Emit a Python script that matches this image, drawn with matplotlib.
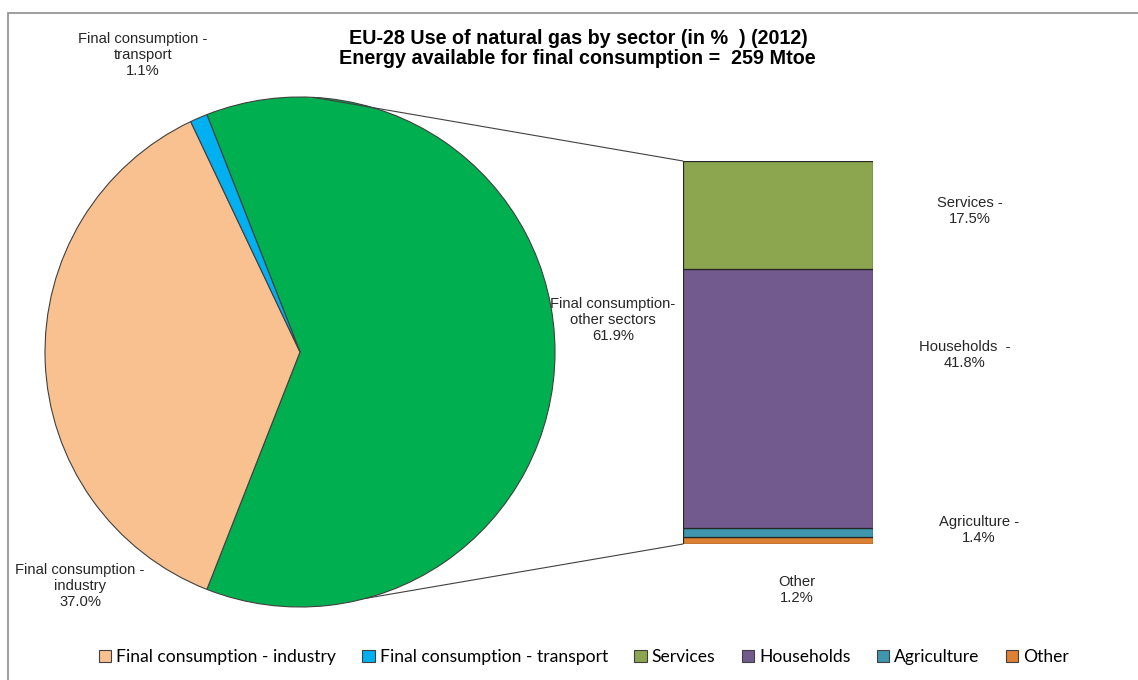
import matplotlib.pyplot as plt
import numpy as np
from matplotlib.patches import ConnectionPatch, Patch, Rectangle

# main pie
pie_labels = ['Final consumption- other sectors', 'Final consumption - industry', 'Final consumption - transport']
pie_values = [61.9, 37.0, 1.1]
pie_colors = ['#00B050', '#F9C18F', '#00B0F0']

# breakdown of "other sectors" (bottom to top)
bar_labels = ['Other', 'Agriculture', 'Households', 'Services']
bar_values = [1.2, 1.4, 41.8, 17.5]
bar_colors = ['#DE8034', '#3E97AE', '#725A8F', '#8BA64E']

legend_labels = ['Final consumption - industry', 'Final consumption - transport',
                 'Services', 'Households', 'Agriculture', 'Other']
legend_colors = ['#F9C18F', '#00B0F0', '#8BA64E', '#725A8F', '#3E97AE', '#DE8034']

W, H = 1138, 680
fig = plt.figure(figsize=(W / 100, H / 100), dpi=100)

def px_axes(x0, y0, x1, y1):
    # pixel box (top-left origin) -> figure axes
    return fig.add_axes([x0 / W, 1 - y1 / H, (x1 - x0) / W, (y1 - y0) / H])

# chart frame
fig.patches.append(Rectangle((8 / W, -0.05), 1.2, 1 - 13 / H + 0.05, transform=fig.transFigure,
                             fill=False, edgecolor='#8c8c8c', lw=1.2))

# pie
axp = px_axes(45, 97, 555, 607)
green_span = pie_values[0] / 100 * 360
axp.pie(pie_values, colors=pie_colors, startangle=green_span / 2, counterclock=False,
        wedgeprops=dict(edgecolor='#404040', linewidth=0.8))
axp.set_xlim(-1, 1)
axp.set_ylim(-1, 1)
axp.set_aspect('equal')
axp.axis('off')

# stacked bar
axb = px_axes(683, 161, 873, 544)
bottom = 0
for v, c in zip(bar_values, bar_colors):
    axb.bar(0, v, bottom=bottom, width=1, color=c, edgecolor='#262626', linewidth=0.9)
    bottom += v
axb.set_xlim(-0.5, 0.5)
axb.set_ylim(0, sum(bar_values))
axb.axis('off')

# connector lines
for ang, yb in [(87, sum(bar_values)), (-75, 0)]:
    a = np.radians(ang)
    con = ConnectionPatch(xyA=(np.cos(a), np.sin(a)), coordsA=axp.transData,
                          xyB=(-0.5, yb), coordsB=axb.transData,
                          color='#404040', lw=0.8)
    fig.add_artist(con)

# title
fig.text(578 / W, 1 - 39 / H, 'EU-28 Use of natural gas by sector (in %  ) (2012)',
         ha='center', va='center', fontsize=14.2, fontweight='bold', family='Liberation Sans')
fig.text(577 / W, 1 - 59 / H, 'Energy available for final consumption =  259 Mtoe',
         ha='center', va='center', fontsize=14.2, fontweight='bold', family='Liberation Sans')

# data labels
lab = dict(ha='center', va='center', fontsize=10.6, family='Liberation Sans', color='#262626',
           linespacing=1.15)
fig.text(143 / W, 1 - 55 / H, 'Final consumption -\ntransport\n1.1%', **lab)
fig.text(80 / W, 1 - 586 / H, 'Final consumption -\nindustry\n37.0%', **lab)
fig.text(613 / W, 1 - 320 / H, 'Final consumption-\nother sectors\n61.9%', **lab)
fig.text(970 / W, 1 - 211 / H, 'Services -\n17.5%', **lab)
fig.text(965 / W, 1 - 355 / H, 'Households  -\n41.8%', **lab)
fig.text(979 / W, 1 - 530 / H, 'Agriculture -\n1.4%', **lab)
fig.text(797 / W, 1 - 590 / H, 'Other\n1.2%', **lab)

# legend
handles = [Patch(facecolor=c, edgecolor='#404040', linewidth=0.8) for c in legend_colors]
fig.legend(handles, legend_labels, loc='center', bbox_to_anchor=(584 / W, 1 - 657 / H), ncol=6,
           frameon=False, prop=dict(family='Lato', size=12.6), handlelength=0.7, handleheight=0.7,
           handletextpad=0.3, columnspacing=1.5)

fig.savefig('out.png', dpi=100)
